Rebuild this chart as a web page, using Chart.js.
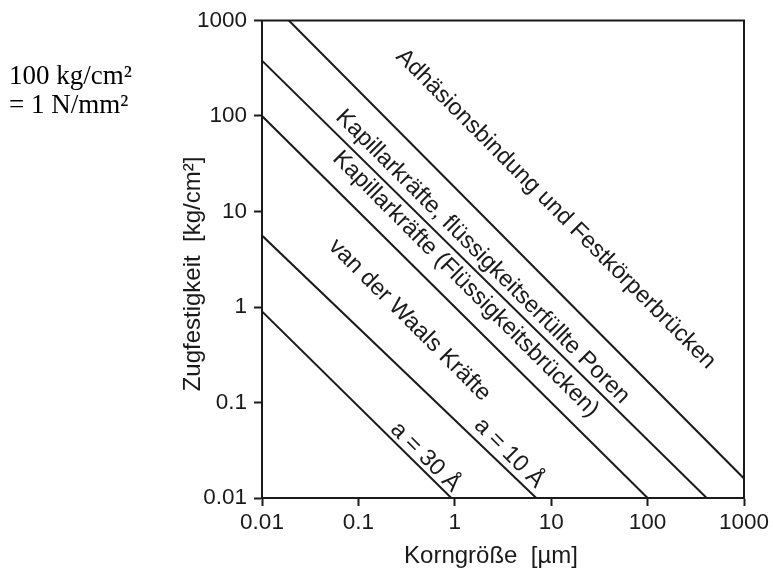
<!DOCTYPE html>
<html>
<head>
<meta charset="utf-8">
<script src="https://cdn.jsdelivr.net/npm/chart.js@4"></script>
<style>
  html, body { margin: 0; padding: 0; background: #fff; }
  canvas { display: block; }
</style>
</head>
<body>
<canvas id="chart" width="773" height="569"></canvas>
<script>
// decade ticks on both log axes
const tickValues = [0.01, 0.1, 1, 10, 100, 1000];

// end points of each regime line: Korngröße [µm] -> Zugfestigkeit [kg/cm²]
const adhesionX = [0.019, 1000];
const adhesionY = [1000, 0.016];
const poresX = [0.01, 410];
const poresY = [380, 0.01];
const bridgesX = [0.01, 100];
const bridgesY = [100, 0.01];
const vdw10X = [0.01, 7];
const vdw10Y = [5.6, 0.01];
const vdw30X = [0.01, 0.92];
const vdw30Y = [0.9, 0.01];

// text along the lines, anchored at the start of the baseline (data units)
const labelTexts = [
  'Adhäsionsbindung und Festkörperbrücken',
  'Kapillarkräfte, flüssigkeitserfüllte Poren',
  'Kapillarkräfte (Flüssigkeitsbrücken)',
  'van der Waals Kräfte',
  'a = 30 Å',
  'a = 10 Å'
];
const labelX = [0.24, 0.057, 0.053, 0.048, 0.21, 1.55];
const labelY = [410, 95, 35, 4.2, 0.051, 0.056];

const INK = '#1a1a1a';
const SANS = '"Liberation Sans", Arial, Helvetica, sans-serif';
const SERIF = '"Liberation Serif", "Times New Roman", serif';

const toPoints = (xs, ys) => xs.map((v, i) => ({ x: v, y: ys[i] }));
const lineSet = (xs, ys) => ({
  data: toPoints(xs, ys),
  borderColor: INK,
  borderWidth: 2,
  pointRadius: 0,
  fill: false,
  tension: 0
});

const extras = {
  id: 'extras',
  afterDraw(chart) {
    const { ctx, chartArea: a, scales: { x, y } } = chart;
    ctx.save();

    // frame round the plot
    ctx.strokeStyle = INK;
    ctx.lineWidth = 2;
    ctx.strokeRect(a.left, a.top, a.right - a.left, a.bottom - a.top);

    ctx.fillStyle = INK;
    ctx.font = '23.5px ' + SANS;
    ctx.textAlign = 'left';
    ctx.textBaseline = 'alphabetic';
    labelTexts.forEach((t, i) => {
      ctx.save();
      ctx.translate(x.getPixelForValue(labelX[i]), y.getPixelForValue(labelY[i]));
      ctx.rotate(Math.PI / 4);
      ctx.fillText(t, 0, 0);
      ctx.restore();
    });

    // axis titles
    ctx.font = '24px ' + SANS;
    ctx.textAlign = 'center';
    ctx.textBaseline = 'alphabetic';
    ctx.fillText('Korngröße  [µm]', 491, 563);
    ctx.save();
    ctx.translate(200, 274);
    ctx.rotate(-Math.PI / 2);
    ctx.fillText('Zugfestigkeit  [kg/cm²]', 0, 0);
    ctx.restore();

    // unit note, top left
    ctx.font = '27px ' + SERIF;
    ctx.textAlign = 'left';
    ctx.fillStyle = '#000';
    ctx.fillText('100 kg/cm²', 9, 84);
    ctx.fillText('= 1 N/mm²', 9, 113);

    ctx.restore();
  }
};

const axis = (pos) => ({
  type: 'logarithmic',
  position: pos,
  min: 0.01,
  max: 1000,
  afterBuildTicks: s => { s.ticks = tickValues.map(v => ({ value: v })); },
  grid: { drawOnChartArea: false, tickLength: 8, tickWidth: 2, tickColor: INK },
  border: { display: true, color: INK, width: 2 },
  ticks: {
    color: INK,
    font: { family: SANS, size: 22.5 },
    padding: pos === 'left' ? 7 : 3,
    maxRotation: 0,
    autoSkip: false,
    callback: v => String(v)
  }
});

const xAxis = axis('bottom');
xAxis.afterFit = s => { s.height = 71; };
const yAxis = axis('left');
yAxis.afterFit = s => { s.width = 262; };

new Chart(document.getElementById('chart'), {
  type: 'line',
  data: {
    datasets: [
      lineSet(adhesionX, adhesionY),
      lineSet(poresX, poresY),
      lineSet(bridgesX, bridgesY),
      lineSet(vdw10X, vdw10Y),
      lineSet(vdw30X, vdw30Y)
    ]
  },
  options: {
    responsive: false,
    animation: false,
    devicePixelRatio: 1,
    parsing: false,
    layout: { padding: { top: 17, right: 29, left: 0, bottom: 0 } },
    plugins: { legend: { display: false }, tooltip: { enabled: false } },
    scales: { x: xAxis, y: yAxis }
  },
  plugins: [extras]
});
</script>
</body>
</html>
